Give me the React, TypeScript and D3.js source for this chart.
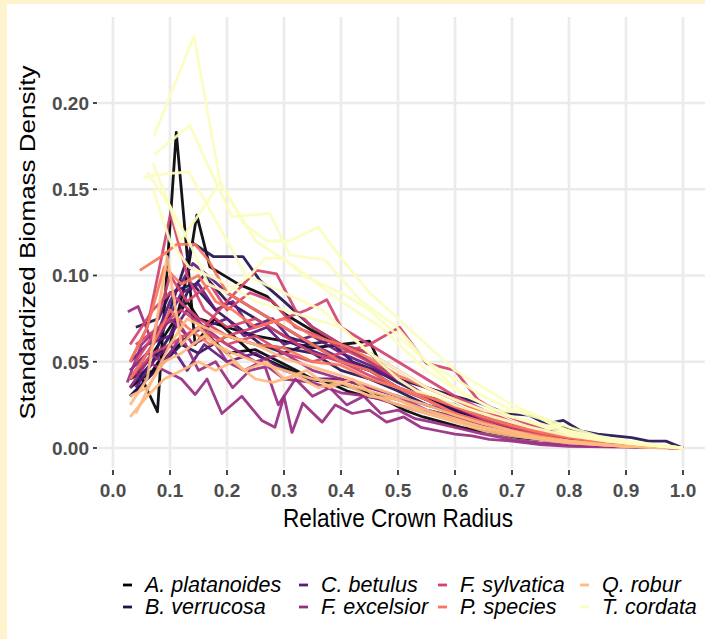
import React from "react";
import * as d3 from "d3";

// species, in legend / drawing order
const species = [
  "A. platanoides",
  "B. verrucosa",
  "C. betulus",
  "F. excelsior",
  "F. sylvatica",
  "P. species",
  "Q. robur",
  "T. cordata",
];

const speciesColors = ["#000004", "#221150", "#5F187F", "#982D80", "#D3436E", "#F8765C", "#FEBA80", "#FCFDBF"];

const xTicks = [0, 0.1, 0.2, 0.3, 0.4, 0.5, 0.6, 0.7, 0.8, 0.9, 1.0];
const yTicks = [0, 0.05, 0.1, 0.15, 0.2];

type Pt = [number, number];

// one array per tree: [relative crown radius, standardized biomass density]
const platanoides: Pt[][] = [
  [[0.044,0.045],[0.078,0.021],[0.111,0.183],[0.144,0.06],[0.178,0.075],[0.211,0.065],[0.244,0.055],[0.278,0.05],[0.311,0.045],[0.344,0.04],[0.378,0.038],[0.411,0.033],[0.444,0.03],[0.478,0.028],[0.511,0.022],[0.544,0.018],[0.578,0.015],[0.611,0.012],[0.644,0.01],[0.678,0.008],[0.711,0.006],[0.744,0.005],[0.778,0.004],[0.811,0.003],[0.844,0.002],[0.878,0.001],[0.944,0.0005],[1.0,0.0]],
  [[0.03,0.035],[0.07,0.045],[0.1,0.06],[0.13,0.1],[0.147,0.135],[0.17,0.105],[0.22,0.095],[0.27,0.088],[0.3,0.078],[0.35,0.068],[0.4,0.06],[0.45,0.055],[0.5,0.04],[0.55,0.03],[0.6,0.022],[0.65,0.015],[0.7,0.01],[0.75,0.007],[0.8,0.005],[0.85,0.003],[0.9,0.002],[0.95,0.001],[1.0,0.0]],
  [[0.03,0.04],[0.06,0.05],[0.1,0.07],[0.13,0.085],[0.15,0.075],[0.2,0.07],[0.25,0.065],[0.3,0.062],[0.35,0.058],[0.4,0.06],[0.45,0.062],[0.47,0.048],[0.5,0.04],[0.55,0.03],[0.6,0.02],[0.65,0.015],[0.7,0.01],[0.75,0.008],[0.79,0.012],[0.85,0.005],[0.9,0.003],[0.95,0.001],[1.0,0.0]],
  [[0.03,0.03],[0.06,0.04],[0.1,0.055],[0.15,0.07],[0.2,0.055],[0.25,0.057],[0.31,0.047],[0.35,0.04],[0.4,0.037],[0.45,0.032],[0.5,0.028],[0.55,0.022],[0.6,0.018],[0.65,0.013],[0.7,0.009],[0.75,0.006],[0.8,0.004],[0.85,0.003],[0.9,0.002],[0.95,0.001],[1.0,0.0]],
];

const verrucosa: Pt[][] = [
  [[0.03,0.035],[0.07,0.05],[0.1,0.08],[0.139,0.119],[0.176,0.111],[0.228,0.111],[0.258,0.097],[0.3,0.085],[0.35,0.07],[0.4,0.06],[0.45,0.05],[0.5,0.04],[0.55,0.035],[0.6,0.03],[0.644,0.026],[0.69,0.02],[0.73,0.019],[0.76,0.014],[0.79,0.016],[0.82,0.01],[0.85,0.008],[0.88,0.007],[0.91,0.006],[0.94,0.004],[0.97,0.004],[1.0,0.0]],
  [[0.03,0.04],[0.06,0.045],[0.1,0.065],[0.13,0.09],[0.16,0.1],[0.2,0.085],[0.25,0.075],[0.3,0.065],[0.35,0.06],[0.4,0.05],[0.45,0.045],[0.5,0.035],[0.55,0.028],[0.6,0.022],[0.65,0.018],[0.7,0.012],[0.75,0.008],[0.8,0.006],[0.85,0.004],[0.9,0.002],[0.95,0.001],[1.0,0.0]],
  [[0.03,0.03],[0.06,0.04],[0.09,0.05],[0.12,0.06],[0.15,0.055],[0.2,0.065],[0.25,0.06],[0.3,0.058],[0.35,0.055],[0.4,0.045],[0.45,0.04],[0.5,0.033],[0.55,0.025],[0.6,0.02],[0.65,0.015],[0.7,0.01],[0.75,0.007],[0.8,0.005],[0.85,0.003],[0.9,0.002],[0.95,0.001],[1.0,0.0]],
  [[0.04,0.07],[0.08,0.075],[0.1,0.09],[0.14,0.095],[0.18,0.08],[0.22,0.07],[0.26,0.06],[0.3,0.055],[0.34,0.06],[0.38,0.062],[0.42,0.05],[0.46,0.045],[0.5,0.038],[0.55,0.03],[0.6,0.025],[0.65,0.018],[0.7,0.012],[0.75,0.009],[0.8,0.006],[0.85,0.004],[0.9,0.002],[1.0,0.0]],
];

const betulus: Pt[][] = [
  [[0.03,0.04],[0.07,0.06],[0.1,0.085],[0.14,0.107],[0.17,0.099],[0.2,0.09],[0.25,0.08],[0.3,0.07],[0.35,0.06],[0.4,0.052],[0.45,0.045],[0.5,0.035],[0.55,0.028],[0.6,0.02],[0.65,0.015],[0.7,0.01],[0.75,0.006],[0.8,0.004],[0.85,0.002],[0.9,0.001],[1.0,0.0]],
  [[0.03,0.05],[0.06,0.06],[0.1,0.065],[0.13,0.08],[0.16,0.07],[0.2,0.075],[0.23,0.065],[0.27,0.07],[0.3,0.06],[0.35,0.065],[0.4,0.055],[0.45,0.048],[0.5,0.04],[0.55,0.03],[0.6,0.025],[0.65,0.018],[0.7,0.013],[0.75,0.008],[0.8,0.005],[0.85,0.003],[0.9,0.002],[1.0,0.0]],
  [[0.04,0.035],[0.07,0.05],[0.1,0.06],[0.13,0.045],[0.16,0.06],[0.2,0.05],[0.25,0.055],[0.3,0.045],[0.35,0.04],[0.4,0.04],[0.45,0.035],[0.5,0.03],[0.55,0.025],[0.6,0.02],[0.65,0.015],[0.7,0.01],[0.75,0.007],[0.8,0.004],[0.85,0.003],[0.9,0.001],[1.0,0.0]],
  [[0.03,0.045],[0.06,0.055],[0.09,0.07],[0.12,0.09],[0.15,0.095],[0.18,0.08],[0.21,0.085],[0.24,0.07],[0.28,0.075],[0.32,0.06],[0.36,0.055],[0.4,0.05],[0.45,0.045],[0.5,0.04],[0.55,0.03],[0.6,0.023],[0.65,0.016],[0.7,0.011],[0.75,0.007],[0.8,0.005],[0.9,0.002],[1.0,0.0]],
];

const excelsior: Pt[][] = [
  [[0.03,0.035],[0.06,0.05],[0.09,0.045],[0.12,0.04],[0.144,0.031],[0.165,0.04],[0.191,0.02],[0.226,0.03],[0.261,0.016],[0.284,0.012],[0.3,0.03],[0.314,0.009],[0.333,0.026],[0.367,0.015],[0.39,0.025],[0.42,0.02],[0.45,0.022],[0.48,0.015],[0.51,0.018],[0.54,0.012],[0.57,0.01],[0.6,0.008],[0.63,0.007],[0.66,0.005],[0.7,0.004],[0.75,0.002],[0.8,0.001],[0.9,0.0005],[1.0,0.0]],
  [[0.03,0.045],[0.06,0.055],[0.09,0.05],[0.12,0.065],[0.15,0.045],[0.18,0.05],[0.21,0.035],[0.24,0.045],[0.267,0.047],[0.29,0.025],[0.32,0.04],[0.35,0.03],[0.38,0.035],[0.41,0.025],[0.44,0.03],[0.47,0.02],[0.5,0.022],[0.53,0.017],[0.56,0.015],[0.6,0.012],[0.65,0.008],[0.7,0.005],[0.75,0.003],[0.8,0.002],[0.9,0.001],[1.0,0.0]],
  [[0.026,0.079],[0.044,0.082],[0.07,0.06],[0.1,0.075],[0.13,0.065],[0.16,0.07],[0.2,0.06],[0.25,0.05],[0.3,0.055],[0.35,0.045],[0.4,0.04],[0.45,0.035],[0.5,0.03],[0.55,0.022],[0.6,0.018],[0.65,0.013],[0.7,0.009],[0.75,0.006],[0.8,0.004],[0.85,0.002],[0.9,0.001],[1.0,0.0]],
  [[0.025,0.038],[0.05,0.06],[0.08,0.07],[0.11,0.075],[0.14,0.06],[0.17,0.065],[0.2,0.05],[0.23,0.045],[0.26,0.05],[0.3,0.04],[0.35,0.038],[0.4,0.032],[0.45,0.03],[0.5,0.025],[0.55,0.02],[0.6,0.016],[0.65,0.012],[0.7,0.008],[0.75,0.005],[0.8,0.003],[0.9,0.001],[1.0,0.0]],
];

const sylvatica: Pt[][] = [
  [[0.03,0.05],[0.06,0.07],[0.101,0.136],[0.13,0.1],[0.16,0.08],[0.2,0.07],[0.25,0.075],[0.3,0.065],[0.35,0.055],[0.4,0.05],[0.45,0.042],[0.5,0.035],[0.55,0.028],[0.6,0.02],[0.65,0.015],[0.7,0.01],[0.75,0.007],[0.8,0.004],[0.85,0.002],[0.9,0.001],[1.0,0.0]],
  [[0.04,0.06],[0.08,0.07],[0.12,0.08],[0.16,0.07],[0.2,0.085],[0.252,0.103],[0.287,0.101],[0.32,0.08],[0.35,0.07],[0.4,0.06],[0.45,0.055],[0.5,0.045],[0.55,0.035],[0.6,0.028],[0.65,0.02],[0.7,0.013],[0.75,0.009],[0.8,0.006],[0.85,0.004],[0.9,0.002],[1.0,0.0]],
  [[0.03,0.06],[0.07,0.08],[0.1,0.09],[0.15,0.075],[0.2,0.065],[0.25,0.07],[0.3,0.075],[0.34,0.08],[0.375,0.086],[0.4,0.07],[0.45,0.06],[0.5,0.05],[0.55,0.04],[0.6,0.03],[0.65,0.022],[0.7,0.015],[0.75,0.01],[0.8,0.006],[0.85,0.004],[0.9,0.002],[1.0,0.0]],
  [[0.03,0.04],[0.07,0.055],[0.1,0.06],[0.15,0.07],[0.2,0.06],[0.25,0.065],[0.3,0.055],[0.35,0.05],[0.4,0.055],[0.45,0.06],[0.503,0.07],[0.55,0.049],[0.6,0.045],[0.64,0.028],[0.68,0.02],[0.72,0.015],[0.76,0.01],[0.8,0.007],[0.85,0.004],[0.9,0.002],[1.0,0.0]],
  [[0.04,0.05],[0.07,0.065],[0.1,0.1],[0.13,0.085],[0.17,0.095],[0.2,0.08],[0.24,0.09],[0.28,0.085],[0.32,0.07],[0.36,0.065],[0.4,0.058],[0.45,0.05],[0.5,0.04],[0.55,0.03],[0.6,0.024],[0.65,0.017],[0.7,0.012],[0.75,0.008],[0.8,0.005],[0.9,0.002],[1.0,0.0]],
];

const pSpecies: Pt[][] = [
  [[0.047,0.103],[0.08,0.11],[0.112,0.118],[0.144,0.118],[0.167,0.109],[0.2,0.09],[0.25,0.08],[0.3,0.07],[0.35,0.06],[0.4,0.05],[0.45,0.045],[0.5,0.035],[0.55,0.028],[0.6,0.02],[0.65,0.015],[0.7,0.01],[0.75,0.007],[0.8,0.004],[0.85,0.003],[0.9,0.001],[1.0,0.0]],
  [[0.03,0.05],[0.06,0.07],[0.09,0.105],[0.12,0.095],[0.15,0.1],[0.18,0.085],[0.21,0.08],[0.25,0.07],[0.3,0.075],[0.35,0.065],[0.4,0.06],[0.45,0.052],[0.5,0.042],[0.55,0.035],[0.6,0.028],[0.65,0.02],[0.7,0.015],[0.75,0.01],[0.8,0.007],[0.85,0.004],[0.9,0.002],[1.0,0.0]],
  [[0.03,0.04],[0.07,0.06],[0.1,0.08],[0.13,0.07],[0.17,0.06],[0.2,0.065],[0.25,0.06],[0.3,0.058],[0.35,0.05],[0.4,0.048],[0.45,0.04],[0.5,0.035],[0.55,0.03],[0.6,0.024],[0.65,0.018],[0.7,0.013],[0.75,0.009],[0.8,0.006],[0.85,0.004],[0.9,0.002],[1.0,0.0]],
];

const robur: Pt[][] = [
  [[0.03,0.018],[0.06,0.03],[0.09,0.04],[0.12,0.045],[0.15,0.05],[0.18,0.045],[0.21,0.05],[0.25,0.04],[0.28,0.038],[0.32,0.042],[0.36,0.035],[0.4,0.038],[0.45,0.03],[0.5,0.028],[0.55,0.02],[0.6,0.016],[0.65,0.012],[0.7,0.008],[0.75,0.005],[0.8,0.003],[0.9,0.001],[1.0,0.0]],
  [[0.03,0.025],[0.06,0.04],[0.095,0.111],[0.12,0.06],[0.15,0.07],[0.18,0.06],[0.21,0.055],[0.25,0.05],[0.3,0.045],[0.35,0.04],[0.4,0.038],[0.45,0.033],[0.5,0.028],[0.55,0.022],[0.6,0.017],[0.65,0.012],[0.7,0.009],[0.75,0.006],[0.8,0.004],[0.9,0.001],[1.0,0.0]],
  [[0.03,0.03],[0.06,0.035],[0.09,0.05],[0.12,0.055],[0.16,0.065],[0.2,0.055],[0.23,0.045],[0.27,0.05],[0.3,0.04],[0.34,0.045],[0.38,0.035],[0.42,0.04],[0.46,0.03],[0.5,0.025],[0.55,0.02],[0.6,0.015],[0.65,0.01],[0.7,0.007],[0.75,0.005],[0.8,0.003],[0.9,0.001],[1.0,0.0]],
  [[0.04,0.02],[0.07,0.04],[0.1,0.06],[0.13,0.075],[0.16,0.07],[0.2,0.065],[0.25,0.06],[0.3,0.052],[0.35,0.047],[0.4,0.042],[0.45,0.036],[0.5,0.03],[0.55,0.025],[0.6,0.019],[0.65,0.014],[0.7,0.01],[0.75,0.006],[0.8,0.004],[0.85,0.002],[0.9,0.001],[1.0,0.0]],
];

const cordata: Pt[][] = [
  [[0.072,0.181],[0.142,0.239],[0.188,0.154],[0.25,0.12],[0.32,0.105],[0.4,0.085],[0.47,0.07],[0.55,0.045],[0.62,0.03],[0.7,0.018],[0.8,0.008],[0.9,0.003],[1.0,0.0]],
  [[0.072,0.17],[0.135,0.187],[0.165,0.165],[0.209,0.134],[0.24,0.135],[0.275,0.136],[0.31,0.112],[0.372,0.109],[0.398,0.099],[0.433,0.086],[0.498,0.07],[0.55,0.05],[0.6,0.035],[0.667,0.022],[0.737,0.02],[0.8,0.008],[0.867,0.004],[0.933,0.002],[1.0,0.0]],
  [[0.053,0.157],[0.096,0.159],[0.133,0.16],[0.167,0.14],[0.2,0.12],[0.233,0.1],[0.267,0.095],[0.3,0.09],[0.333,0.085],[0.367,0.08],[0.4,0.07],[0.433,0.06],[0.467,0.05],[0.5,0.04],[0.533,0.033],[0.567,0.03],[0.6,0.025],[0.667,0.018],[0.733,0.012],[0.8,0.007],[0.867,0.004],[0.933,0.002],[1.0,0.0]],
  [[0.06,0.16],[0.1,0.14],[0.133,0.12],[0.167,0.095],[0.2,0.09],[0.24,0.1],[0.267,0.11],[0.3,0.11],[0.333,0.1],[0.4,0.09],[0.45,0.08],[0.5,0.065],[0.55,0.05],[0.6,0.04],[0.65,0.03],[0.7,0.022],[0.75,0.017],[0.8,0.01],[0.85,0.006],[0.9,0.003],[1.0,0.0]],
  [[0.07,0.165],[0.1,0.14],[0.118,0.12],[0.15,0.135],[0.188,0.154],[0.23,0.13],[0.27,0.12],[0.31,0.12],[0.36,0.128],[0.4,0.11],[0.45,0.09],[0.5,0.075],[0.55,0.06],[0.6,0.045],[0.65,0.035],[0.7,0.025],[0.75,0.018],[0.8,0.012],[0.85,0.007],[0.9,0.004],[1.0,0.0]],
  [[0.07,0.15],[0.1,0.12],[0.133,0.105],[0.167,0.1],[0.2,0.095],[0.25,0.085],[0.3,0.08],[0.35,0.075],[0.4,0.07],[0.45,0.055],[0.5,0.045],[0.55,0.035],[0.6,0.028],[0.65,0.022],[0.7,0.018],[0.75,0.014],[0.8,0.01],[0.85,0.006],[0.9,0.003],[1.0,0.0]],
];

const treesBySpecies = [platanoides, verrucosa, betulus, excelsior, sylvatica, pSpecies, robur, cordata];

const W = 705;
const H = 639;
const font = "'Liberation Sans', Arial, sans-serif";

export default function App() {
  const x = d3.scaleLinear().domain([0, 1]).range([113, 683]);
  const y = d3.scaleLinear().domain([0, 0.2]).range([448, 103]);
  const panel = { left: 98, right: W, top: 17, bottom: 468 };
  const line = d3
    .line<Pt>()
    .x((d) => x(d[0]))
    .y((d) => y(d[1]));
  const color = d3.scaleOrdinal<string, string>().domain(species).range(speciesColors);

  // legend: 4 columns x 2 rows, filled column-wise
  const legendCols = [123, 299, 438, 580];
  const legendRows = [585, 607];
  const xMid = (x(0) + x(1)) / 2;

  return (
    <svg width={W} height={H} style={{ position: "absolute", left: 0, top: 0 }} fontFamily={font}>
      <rect x={0} y={0} width={W} height={H} fill="#FFF3CD" />
      <rect x={7} y={4} width={W - 7} height={H - 4} fill="#FFFFFF" />

      {/* grid */}
      {yTicks.map((t) => (
        <line key={"gy" + t} x1={panel.left} x2={panel.right} y1={y(t)} y2={y(t)} stroke="#EBEBEB" strokeWidth={2.7} />
      ))}
      {xTicks.map((t) => (
        <line key={"gx" + t} x1={x(t)} x2={x(t)} y1={panel.top} y2={panel.bottom} stroke="#EBEBEB" strokeWidth={2.7} />
      ))}

      {/* lines */}
      <g fill="none" strokeWidth={2.8} strokeLinejoin="round" strokeOpacity={0.92}>
        {treesBySpecies.map((trees, si) =>
          trees.map((tree, ti) => (
            <path key={si + "-" + ti} d={line(tree) || ""} stroke={color(species[si])} />
          ))
        )}
      </g>

      {/* y axis */}
      {yTicks.map((t) => (
        <g key={"ty" + t}>
          <line x1={93} x2={97} y1={y(t)} y2={y(t)} stroke="#333333" strokeWidth={1.8} />
          <text x={89} y={y(t)} dy="0.36em" textAnchor="end" fontSize={19} fontWeight="bold" fill="#4D4D4D">
            {d3.format(".2f")(t)}
          </text>
        </g>
      ))}
      {/* x axis */}
      {xTicks.map((t) => (
        <g key={"tx" + t}>
          <line x1={x(t)} x2={x(t)} y1={470} y2={475} stroke="#333333" strokeWidth={1.8} />
          <text x={x(t)} y={497} textAnchor="middle" fontSize={19} fontWeight="bold" fill="#4D4D4D">
            {d3.format(".1f")(t)}
          </text>
        </g>
      ))}

      <text transform={`translate(${xMid}, 527) scale(0.87, 1)`} textAnchor="middle" fontSize={26} fill="#000">
        Relative Crown Radius
      </text>
      <text transform={`translate(35, ${(panel.top + panel.bottom) / 2}) rotate(-90) scale(1, 0.87)`} textAnchor="middle" fontSize={26} fill="#000">
        Standardized Biomass Density
      </text>

      {/* legend */}
      {species.map((s, i) => {
        const cx = legendCols[Math.floor(i / 2)];
        const cy = legendRows[i % 2];
        return (
          <g key={"lg" + s}>
            <line x1={cx} x2={cx + 9} y1={cy} y2={cy} stroke={color(s)} strokeWidth={2.8} />
            <text x={cx + 22} y={cy + 7} fontSize={21.5} fontStyle="italic" fill="#000">
              {s}
            </text>
          </g>
        );
      })}
    </svg>
  );
}
